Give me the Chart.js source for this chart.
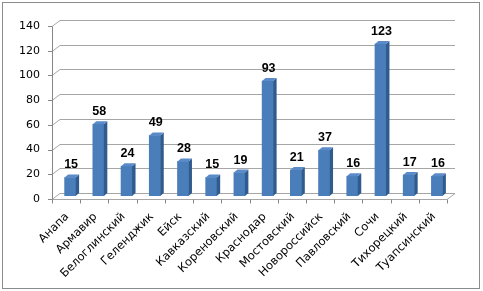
<!DOCTYPE html>
<html>
<head>
<meta charset="utf-8">
<script src="https://cdn.jsdelivr.net/npm/chart.js@4"></script>
<style>
  html, body { margin: 0; padding: 0; background: #fff; }
  #wrap { position: relative; width: 483px; height: 291px; }
  #frame { position: absolute; left: 2px; top: 2px; width: 478px; height: 287px; border: 1px solid #8c8c8c; box-sizing: border-box; }
  canvas { position: absolute; left: 0; top: 0; }
</style>
</head>
<body>
<div id="wrap">
  <div id="frame"></div>
  <canvas id="chart" width="483" height="291"></canvas>
</div>
<script>
const districts = ['Анапа', 'Армавир', 'Белоглинский', 'Геленджик', 'Ейск', 'Кавказский', 'Кореновский',
    'Краснодар', 'Мостовский', 'Новороссийск', 'Павловский', 'Сочи', 'Тихорецкий', 'Туапсинский'];
const counts = [15, 58, 24, 49, 28, 15, 19, 93, 21, 37, 16, 123, 17, 16];
const yTicks = [0, 20, 40, 60, 80, 100, 120, 140];

// depth of the back wall relative to the bar plane
const DX = 4, DY = 3;
const BAR_DX = 3.5, BAR_DY = 3;

const walls = {
    id: 'walls',
    beforeDatasetsDraw(chart) {
        const ctx = chart.ctx;
        const y = chart.scales.y;
        const l = chart.chartArea.left, r = chart.chartArea.right;
        ctx.save();
        ctx.lineWidth = 1;
        yTicks.forEach(v => {
            const py = Math.round(y.getPixelForValue(v)) + 0.5;
            ctx.strokeStyle = '#a6a6a6';
            ctx.beginPath();
            ctx.moveTo(l - DX, py + DY);
            ctx.lineTo(l + DX, py - DY);
            ctx.lineTo(r + DX, py - DY);
            ctx.stroke();
            // tick mark on the axis
            ctx.strokeStyle = '#868686';
            ctx.beginPath();
            ctx.moveTo(l - DX - 4, py + DY);
            ctx.lineTo(l - DX, py + DY);
            ctx.stroke();
        });
        const y0 = Math.round(y.getPixelForValue(0)) + 0.5;
        const yTop = Math.round(y.getPixelForValue(140)) + 0.5;
        ctx.strokeStyle = '#868686';
        // vertical axis
        ctx.beginPath();
        ctx.moveTo(Math.round(l - DX) + 0.5, yTop + DY);
        ctx.lineTo(Math.round(l - DX) + 0.5, y0 + DY);
        ctx.stroke();
        // floor front edge and right edge
        ctx.strokeStyle = '#a6a6a6';
        ctx.beginPath();
        ctx.moveTo(l - DX, y0 + DY);
        ctx.lineTo(r - DX, y0 + DY);
        ctx.lineTo(r + DX, y0 - DY);
        ctx.stroke();
        // category ticks
        ctx.strokeStyle = '#868686';
        for (let i = 0; i <= districts.length; i++) {
            const px = Math.round(l + (r - l) * i / districts.length - DX) + 0.5;
            ctx.beginPath();
            ctx.moveTo(px, y0 + DY);
            ctx.lineTo(px, y0 + DY + 4);
            ctx.stroke();
        }
        ctx.restore();
    }
};

const bars3d = {
    id: 'bars3d',
    afterDatasetsDraw(chart) {
        const ctx = chart.ctx;
        const meta = chart.getDatasetMeta(0);
        ctx.save();
        meta.data.forEach((bar, i) => {
            const left = bar.x - bar.width / 2, right = bar.x + bar.width / 2;
            const top = bar.y, bottom = bar.base;
            // side face
            ctx.fillStyle = '#2f5b8e';
            ctx.beginPath();
            ctx.moveTo(right, bottom);
            ctx.lineTo(right, top);
            ctx.lineTo(right + BAR_DX, top - BAR_DY);
            ctx.lineTo(right + BAR_DX, bottom - BAR_DY);
            ctx.closePath();
            ctx.fill();
            // top face
            ctx.fillStyle = '#5a8ac8';
            ctx.beginPath();
            ctx.moveTo(left, top);
            ctx.lineTo(right, top);
            ctx.lineTo(right + BAR_DX, top - BAR_DY);
            ctx.lineTo(left + BAR_DX, top - BAR_DY);
            ctx.closePath();
            ctx.fill();
            // value label
            ctx.fillStyle = '#000';
            ctx.font = 'bold 12.5px "Liberation Sans", Arial, sans-serif';
            ctx.textAlign = 'center';
            ctx.textBaseline = 'alphabetic';
            ctx.fillText(String(counts[i]), bar.x + 1, top - 9);
        });
        ctx.restore();
    }
};

new Chart(document.getElementById('chart'), {
    type: 'bar',
    data: {
        labels: districts,
        datasets: [{
            data: counts,
            backgroundColor: '#4a7ebb',
            borderWidth: 0,
            barThickness: 11
        }]
    },
    options: {
        responsive: false,
        animation: false,
        layout: { padding: { left: 0, right: 32, top: 23, bottom: 0 } },
        plugins: { legend: { display: false }, tooltip: { enabled: false } },
        scales: {
            x: {
                grid: { display: false, drawTicks: false },
                border: { display: false },
                afterFit: s => { s.height = 95; },
                ticks: {
                    minRotation: 45,
                    maxRotation: 45,
                    autoSkip: false,
                    padding: 14,
                    labelOffset: -3,
                    color: '#000',
                    font: { family: '"DejaVu Sans", Verdana, sans-serif', size: 11.5 }
                }
            },
            y: {
                min: 0,
                max: 140,
                grid: { display: false, drawTicks: false },
                border: { display: false },
                afterFit: s => { s.width = 56; },
                afterBuildTicks: s => { s.ticks = yTicks.map(v => ({ value: v })); },
                ticks: {
                    padding: 16,
                    labelOffset: 3,
                    color: '#000',
                    font: { family: '"DejaVu Sans", Verdana, sans-serif', size: 11 }
                }
            }
        }
    },
    plugins: [walls, bars3d]
});
</script>
</body>
</html>
